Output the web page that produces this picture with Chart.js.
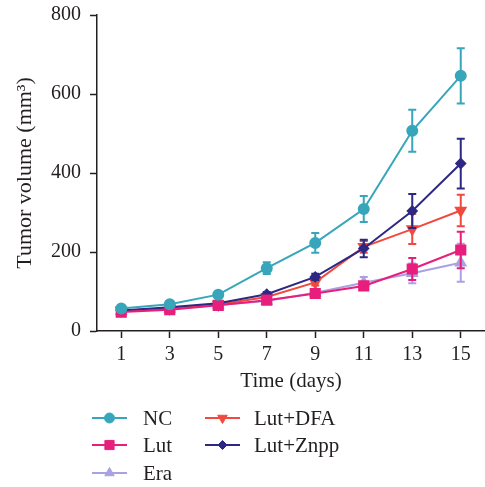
<!DOCTYPE html>
<html>
<head>
<meta charset="utf-8">
<script src="https://cdn.jsdelivr.net/npm/chart.js@4.4.1/dist/chart.umd.min.js"></script>
<style>
  html, body { margin: 0; padding: 0; background: #ffffff; }
  #tumor-Chart { display: block; }
</style>
</head>
<body>
<canvas id="tumor-Chart" width="485" height="487"></canvas>
<script>
// 腫瘍体積の推移
const days = [1, 3, 5, 7, 9, 11, 13, 15];
const xTicks = [1, 3, 5, 7, 9, 11, 13, 15];
const groupNames = ["NC", "Lut", "Era", "Lut+DFA", "Lut+Znpp"];

const ncVol = [57, 68, 92, 159, 223, 309, 507, 646];
const ncErr = [6, 6, 6, 15, 25, 33, 53, 70];
const lutVol = [48, 54, 65, 78, 95, 114, 157, 205];
const lutErr = [4, 4, 4, 5, 6, 8, 28, 46];
const eraVol = [50, 56, 66, 76, 97, 122, 146, 173];
const eraErr = [4, 4, 4, 5, 6, 15, 25, 48];
const dfaVol = [52, 57, 67, 86, 123, 213, 258, 305];
const dfaErr = [4, 4, 4, 6, 8, 15, 38, 40];
const znppVol = [52, 60, 70, 93, 137, 209, 304, 424];
const znppErr = [4, 4, 4, 6, 8, 22, 43, 63];

const FONT = "'Liberation Serif', 'DejaVu Serif', serif";
const INK = "#231f20";

document.addEventListener("DOMContentLoaded", () => {
  const ctx = document.getElementById("tumor-Chart");
  if (!ctx) {
    console.error("Canvas element not found");
    return;
  }

  const toPoints = (vals) => days.map((d, i) => ({ x: d, y: vals[i] }));

  function drawMarker(c, ds, x, y) {
    c.save();
    c.fillStyle = ds.pointBackgroundColor;
    c.strokeStyle = ds.pointBackgroundColor;
    c.lineWidth = 1;
    Chart.helpers.drawPoint(c, {
      pointStyle: ds.pointStyle,
      radius: ds.pointRadius,
      rotation: ds.pointRotation || 0,
      borderWidth: 1,
    }, x, y);
    c.restore();
  }

  // エラーバー（各データセットの直前に描く）
  const errorBarPlugin = {
    id: "error-bars",
    beforeDatasetDraw(chart, args) {
      const ds = chart.data.datasets[args.index];
      if (!ds.errors) return;
      const { ctx, scales: { x, y } } = chart;
      ctx.save();
      ctx.strokeStyle = ds.borderColor;
      ctx.lineWidth = 2;
      const cap = 4;
      ds.data.forEach((p, i) => {
        const e = ds.errors[i];
        const px = x.getPixelForValue(p.x);
        const top = y.getPixelForValue(p.y + e);
        const bot = y.getPixelForValue(p.y - e);
        ctx.beginPath();
        ctx.moveTo(px, top);
        ctx.lineTo(px, bot);
        ctx.moveTo(px - cap, top);
        ctx.lineTo(px + cap, top);
        ctx.moveTo(px - cap, bot);
        ctx.lineTo(px + cap, bot);
        ctx.stroke();
      });
      ctx.restore();
    },
  };

  // 下の凡例（2列）
  const legendPlugin = {
    id: "column-legend",
    afterDraw(chart) {
      const { ctx } = chart;
      const cols = [
        { line: 92, text: 143, items: ["NC", "Lut", "Era"] },
        { line: 205, text: 254, items: ["Lut+DFA", "Lut+Znpp"] },
      ];
      const rows = [418, 445, 473];
      ctx.save();
      ctx.font = "21px " + FONT;
      ctx.textBaseline = "middle";
      ctx.textAlign = "left";
      cols.forEach((col) => {
        col.items.forEach((name, r) => {
          const ds = chart.data.datasets.find((d) => d.label === name);
          const y = rows[r];
          ctx.strokeStyle = ds.borderColor;
          ctx.lineWidth = 2;
          ctx.beginPath();
          ctx.moveTo(col.line, y);
          ctx.lineTo(col.line + 35, y);
          ctx.stroke();
          drawMarker(ctx, ds, col.line + 17.5, y);
          ctx.fillStyle = INK;
          ctx.fillText(name, col.text, y + 1);
        });
      });
      ctx.restore();
    },
  };

  const mk = (label, vals, errs, color, style, radius, rotation) => ({
    label,
    data: toPoints(vals),
    errors: errs,
    borderColor: color,
    backgroundColor: color,
    pointBackgroundColor: color,
    pointBorderColor: color,
    pointStyle: style,
    pointRadius: radius,
    pointRotation: rotation || 0,
    borderWidth: 2,
    tension: 0,
  });

  new Chart(ctx, {
    type: "line",
    data: {
      datasets: [
        mk(groupNames[0], ncVol, ncErr, "#37a6ba", "circle", 5),
        mk(groupNames[1], lutVol, lutErr, "#e81e7c", "rect", 6.5),
        mk(groupNames[4], znppVol, znppErr, "#2c2883", "rectRot", 4.5),
        mk(groupNames[3], dfaVol, dfaErr, "#f0493f", "triangle", 5.5, 180),
        mk(groupNames[2], eraVol, eraErr, "#a8a2e2", "triangle", 5.5),
      ],
    },
    plugins: [errorBarPlugin, legendPlugin],
    options: {
      responsive: false,
      animation: false,
      layout: {
        autoPadding: false,
        padding: { top: 15, right: 0, bottom: 90, left: 0 },
      },
      plugins: {
        legend: { display: false },
        tooltip: { enabled: false },
      },
      scales: {
        x: {
          type: "linear",
          min: 0,
          max: 16,
          afterBuildTicks(scale) {
            scale.ticks = xTicks.map((v) => ({ value: v }));
          },
          afterFit(scale) {
            scale.height = 66;
            scale.paddingLeft = 0;
            scale.paddingRight = 0;
          },
          grid: {
            display: true,
            drawOnChartArea: false,
            drawTicks: true,
            tickLength: 7,
            tickWidth: 1.5,
            color: INK,
          },
          border: { display: true, color: INK, width: 1.5 },
          ticks: {
            color: INK,
            font: { family: FONT, size: 20 },
            padding: 5,
            maxRotation: 0,
          },
          title: {
            display: true,
            text: "Time (days)",
            color: INK,
            font: { family: FONT, size: 21 },
            padding: 3,
          },
        },
        y: {
          min: 0,
          max: 800,
          afterFit(scale) {
            scale.width = 97;
            scale.paddingTop = 0;
            scale.paddingBottom = 0;
          },
          grid: {
            display: true,
            drawOnChartArea: false,
            drawTicks: true,
            tickLength: 7,
            tickWidth: 1.5,
            color: INK,
          },
          border: { display: true, color: INK, width: 1.5 },
          ticks: {
            stepSize: 200,
            color: INK,
            font: { family: FONT, size: 20 },
            padding: 9,
          },
          title: {
            display: true,
            text: "Tumor volume (mm³)",
            color: INK,
            font: { family: FONT, size: 22 },
            padding: { top: 12, bottom: 4 },
          },
        },
      },
    },
  });
});
</script>
</body>
</html>
